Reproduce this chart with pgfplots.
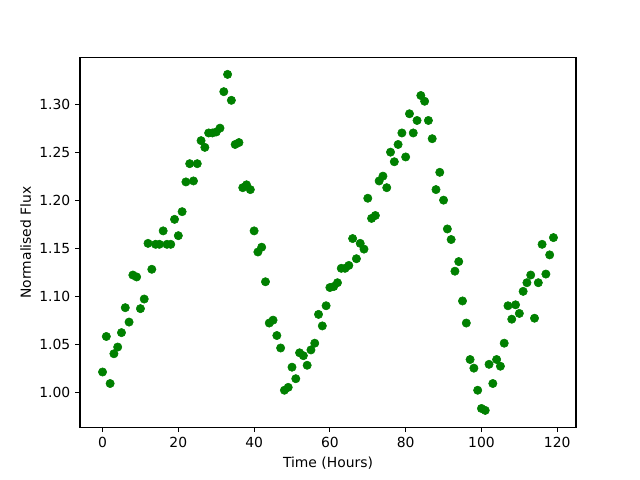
\documentclass[border=0pt]{standalone}
\usepackage{fontspec}
\setmainfont{DejaVu Sans}
\usepackage{pgfplots}
\pgfplotsset{compat=1.18}
\definecolor{mplgreen}{HTML}{008000}
\begin{document}
\fontsize{10pt}{12pt}\selectfont
\begin{tikzpicture}
\path[use as bounding box] (-57.6pt,-38.02pt) rectangle (403.2pt,307.58pt);
\begin{axis}[
  at={(0,0)}, anchor=south west,
  scale only axis, width=357.12pt, height=266.11pt,
  xmin=-5.95, xmax=124.95, ymin=0.9635, ymax=1.3485,
  xtick={0,20,...,120},
  ytick={1.00,1.05,1.10,1.15,1.20,1.25,1.30},
  yticklabel style={/pgf/number format/.cd, fixed, fixed zerofill, precision=2},
  /pgf/number format/assume math mode=true,
  tick align=outside, tick pos=left,
  major tick length=3.5pt,
  every tick/.style={black, line width=0.8pt},
  axis line style={line width=0.8pt},
  ticklabel style={font=\fontsize{10pt}{12pt}\selectfont},
  xlabel={Time (Hours)}, ylabel={Normalised Flux},
  label style={font=\fontsize{10pt}{12pt}\selectfont},
  xlabel style={yshift=0pt},
  ylabel style={yshift=-1pt},
]
\addplot[only marks, mark=*, mark size=3pt, color=mplgreen, mark options={fill=mplgreen, draw=mplgreen}] coordinates {
(0,1.021) (1,1.058) (2,1.009) (3,1.040) (4,1.047) (5,1.062) (6,1.088) (7,1.073) (8,1.122) (9,1.120)
(10,1.087) (11,1.097) (12,1.155) (13,1.128) (14,1.154) (15,1.154) (16,1.168) (17,1.154) (18,1.154) (19,1.180)
(20,1.163) (21,1.188) (22,1.219) (23,1.238) (24,1.220) (25,1.238) (26,1.262) (27,1.255) (28,1.270) (29,1.270)
(30,1.271) (31,1.275) (32,1.313) (33,1.331) (34,1.304) (35,1.258) (36,1.260) (37,1.213) (38,1.216) (39,1.211)
(40,1.168) (41,1.146) (42,1.151) (43,1.115) (44,1.072) (45,1.075) (46,1.059) (47,1.046) (48,1.002) (49,1.005)
(50,1.026) (51,1.014) (52,1.041) (53,1.038) (54,1.028) (55,1.044) (56,1.051) (57,1.081) (58,1.069) (59,1.090)
(60,1.109) (61,1.110) (62,1.114) (63,1.129) (64,1.129) (65,1.132) (66,1.160) (67,1.139) (68,1.155) (69,1.149)
(70,1.202) (71,1.181) (72,1.184) (73,1.220) (74,1.225) (75,1.213) (76,1.250) (77,1.240) (78,1.258) (79,1.270)
(80,1.245) (81,1.290) (82,1.270) (83,1.283) (84,1.309) (85,1.303) (86,1.283) (87,1.264) (88,1.211) (89,1.229)
(90,1.200) (91,1.170) (92,1.159) (93,1.126) (94,1.136) (95,1.095) (96,1.072) (97,1.034) (98,1.025) (99,1.002)
(100,0.983) (101,0.981) (102,1.029) (103,1.009) (104,1.034) (105,1.027) (106,1.051) (107,1.090) (108,1.076) (109,1.091)
(110,1.082) (111,1.105) (112,1.114) (113,1.122) (114,1.077) (115,1.114) (116,1.154) (117,1.123) (118,1.143) (119,1.161)
};
\end{axis}
\end{tikzpicture}
\end{document}
